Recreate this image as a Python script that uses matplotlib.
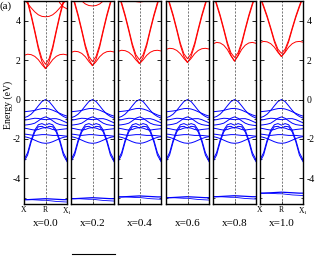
import numpy as np
import matplotlib
matplotlib.use('Agg')
import matplotlib.pyplot as plt
from matplotlib.lines import Line2D
from matplotlib.ticker import MultipleLocator

plt.rcParams['font.family'] = 'serif'
plt.rcParams['font.serif'] = ['Liberation Serif', 'DejaVu Serif']
plt.rcParams['mathtext.fontset'] = 'stix'
plt.rcParams['axes.unicode_minus'] = False

# k-path X - R - X1 (13 sample points)
kpts = np.linspace(0, 1, 13)
kticks = [0.0, 0.5, 1.0]
klabels = ['X', 'R', r'X$_1$']
panel_labels = ['x=0.0', 'x=0.2', 'x=0.4', 'x=0.6', 'x=0.8', 'x=1.0']

# values per panel (eV)
cb_min = [1.57, 1.72, 1.82, 1.88, 1.95, 2.18]      # conduction band minimum at R
cb_edge = [2.3, 2.45, 2.5, 2.6, 2.9, 2.95]         # lowest CB at X / X1
v_scale = [1.0, 0.94, 0.9, 0.88, 0.85, 0.75]       # steepness of the V bands
upper_min = [4.2, 4.75, 4.95, 5.0, 5.05, 5.3]      # upper CB at R
flat_band = [-5.08, -5.03, -4.94, -4.98, -4.93, -4.75]

# conduction band shapes (relative)
cb_low_shape = [0.92, 1.0, 0.97, 0.85, 0.62, 0.28, 0.0, 0.28, 0.62, 0.85, 0.97, 1.0, 0.95]
v1_shape = [4.0, 3.35, 2.65, 1.85, 1.0, 0.35, 0.0, 0.35, 1.0, 1.85, 2.65, 3.35, 4.0]
v2_shape = [4.1, 3.45, 2.75, 1.95, 1.12, 0.5, 0.22, 0.5, 1.12, 1.95, 2.75, 3.45, 4.1]
upper_shape = [0.9, 0.68, 0.45, 0.25, 0.1, 0.02, 0.0, 0.02, 0.1, 0.25, 0.45, 0.68, 0.9]
edge_shape = [2.0, 2.0, 2.0, 2.0, 2.0, 2.0, 2.0, 1.8, 1.5, 1.1, 0.7, 0.5, 0.4]

# valence bands (shared by all panels)
vb_1 = [-0.92, -0.86, -0.74, -0.55, -0.32, -0.1, 0.0, -0.1, -0.32, -0.55, -0.74, -0.86, -0.94]
vb_2 = [-0.62, -0.6, -0.58, -0.55, -0.5, -0.46, -0.45, -0.48, -0.54, -0.62, -0.7, -0.78, -0.84]
vb_3 = [-1.05, -1.02, -0.98, -0.95, -0.96, -1.0, -1.02, -1.0, -0.97, -0.97, -1.02, -1.1, -1.18]
vb_4 = [-1.3, -1.28, -1.25, -1.2, -1.08, -0.95, -0.88, -0.95, -1.08, -1.2, -1.27, -1.3, -1.32]
vb_5 = [-1.45, -1.48, -1.52, -1.55, -1.52, -1.45, -1.42, -1.45, -1.52, -1.55, -1.52, -1.5, -1.48]
vb_6 = [-3.05, -2.7, -2.05, -1.55, -1.28, -1.22, -1.3, -1.22, -1.28, -1.55, -2.05, -2.7, -3.05]
vb_7 = [-3.15, -2.82, -2.15, -1.65, -1.38, -1.36, -1.45, -1.36, -1.38, -1.65, -2.15, -2.82, -3.15]
vb_8 = [-1.75, -1.77, -1.8, -1.82, -1.8, -1.78, -1.78, -1.8, -1.82, -1.82, -1.82, -1.84, -1.86]
vb_9 = [-1.88, -1.92, -1.98, -2.06, -2.14, -2.2, -2.22, -2.2, -2.14, -2.06, -1.98, -1.92, -1.88]
valence = [vb_1, vb_2, vb_3, vb_4, vb_5, vb_6, vb_7, vb_8, vb_9]

fb_shape1 = [0, 0, 0.01, 0.02, 0.03, 0.04, 0.05, 0.04, 0.03, 0.02, 0.01, 0, 0]
fb_shape2 = [0, 0, 0, -0.01, -0.02, -0.03, -0.03, -0.05, -0.07, -0.09, -0.1, -0.11, -0.12]

red = '#ff0000'
blue = '#0000ff'

fig = plt.figure(figsize=(3.15, 2.56), dpi=100)
W, H = 315, 256
lefts = [24, 71, 118, 166, 213, 260]
pw = 43
bottom_px, top_px = 204, 1

for i in range(6):
    ax = fig.add_axes([lefts[i] / W, 1 - bottom_px / H, pw / W, (bottom_px - top_px) / H])
    cm = cb_min[i]
    c_low = cm + (cb_edge[i] - cm) * np.array(cb_low_shape)
    v1 = cm + v_scale[i] * np.array(v1_shape)
    v2 = cm + v_scale[i] * np.array(v2_shape)
    up = upper_min[i] + np.array(upper_shape)
    ed = upper_min[i] + np.array(edge_shape)
    for band in [c_low, v1, v2, up, ed]:
        ax.plot(kpts, band, color=red, lw=0.7)
    for band in valence:
        ax.plot(kpts, band, color=blue, lw=0.7)
    ax.plot(kpts, flat_band[i] + np.array(fb_shape1), color=blue, lw=0.9)
    ax.plot(kpts, flat_band[i] + np.array(fb_shape2), color=blue, lw=0.6)

    ax.axhline(0, color='k', lw=0.5, ls=(0, (3, 2)))
    ax.axvline(0.5, color='#444444', lw=0.5, ls=(0, (3, 2)))

    ax.set_xlim(0, 1)
    ax.set_ylim(-5.3, 5.0)
    ax.yaxis.set_major_locator(MultipleLocator(2))
    ax.yaxis.set_minor_locator(MultipleLocator(1))
    ax.set_yticks([-4, -2, 0, 2, 4])
    ax.set_yticklabels(['-4', '-2', '0', '2', '4'])
    ax.set_xticks(kticks)
    ax.tick_params(axis='y', which='both', direction='in', left=True, right=True,
                   labelleft=(i == 0), labelright=(i == 5), labelsize=7, pad=2.5)
    ax.tick_params(axis='y', which='major', length=3, width=0.6)
    ax.tick_params(axis='y', which='minor', length=1.5, width=0.5)
    ax.tick_params(axis='x', direction='in', length=2, width=0.5, labelsize=5.5, pad=1.5)
    if i in (0, 5):
        ax.set_xticklabels(klabels)
    else:
        ax.set_xticklabels([])
    for s in ax.spines.values():
        s.set_linewidth(1.0)
    ax.text(0.5, -0.094, panel_labels[i], transform=ax.transAxes,
            ha='center', va='center', fontsize=8)

fig.text(8 / W, 1 - 105 / H, 'Energy (eV)', rotation=90, ha='center', va='center', fontsize=7)
fig.text(0, 1 - 6 / H, '(a)', ha='left', va='center', fontsize=8)
fig.add_artist(Line2D([72 / W, 115 / W], [1 - 254 / H, 1 - 254 / H], color='k', lw=0.8))

fig.savefig('out.png', dpi=100)
